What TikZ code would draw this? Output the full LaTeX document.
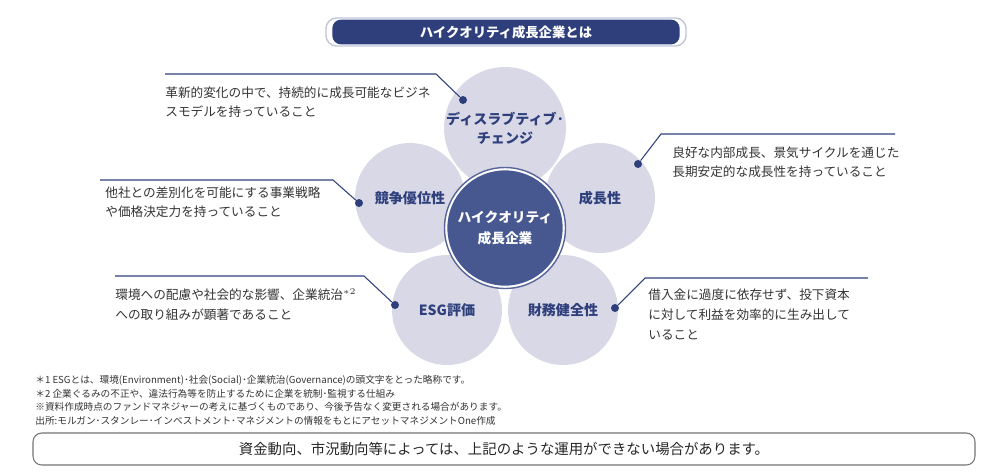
\documentclass[tikz,border=0pt]{standalone}
\usepackage{fontspec}
\setmainfont{Noto Sans CJK JP}
\usepackage{tikz}
\usetikzlibrary{positioning}
\definecolor{navy}{HTML}{2E3F7C}
\definecolor{petal}{HTML}{D8D8E7}
\definecolor{core}{HTML}{46588F}
\begin{document}
\begin{tikzpicture}[x=0.02cm,y=-0.02cm]

	\tikzset{
		petal/.style={
				circle, fill=petal, inner sep=0pt, minimum size=2.2cm, text=navy, font=\fontsize{8}{11}\selectfont\bfseries, align=center
			},
		dot/.style={
				circle, fill=navy, inner sep=0pt, minimum size=0.16cm
			},
		desc/.style={
				anchor=north west, inner sep=0pt, font=\fontsize{7.2}{11.3}\selectfont, text=black!80, align=left
			},
		lead/.style={
				navy, line width=0.6pt
			},
		foot/.style={
				anchor=north west, inner sep=0pt, font=\fontsize{5.5}{7.7}\selectfont, text=black!80, align=left
			},
	}
	\useasboundingbox (0,0) rectangle (991,471);

	% title
	\draw[navy!30, line width=0.8pt, rounded corners=6pt] (326,18) rectangle (686,46);
	\node[fill=navy, rounded corners=5pt, minimum width=6.95cm, minimum height=0.44cm, text=white, font=\fontsize{7.6}{8}\selectfont\bfseries](title) at (506,32){ハイクオリティ成長企業とは};

	% petals
	\node[petal](p1) at (505,128){ディスラブティブ･\\チェンジ};
	\node[petal](p2) at (410,198){競争優位性};
	\node[petal](p3) at (600,198){成長性};
	\node[petal](p4) at (447,310){ESG評価};
	\node[petal](p5) at (563,310){財務健全性};
	\node[circle, draw=navy!80, fill=white, line width=0.8pt, minimum size=2.42cm](ring) at (505,228){};
	\node[circle, fill=core, minimum size=2.26cm, text=white, font=\fontsize{7.8}{11.5}\selectfont\bfseries, align=center](core) at (505,228){ハイクオリティ\\成長企業};

	% dots
	\node[dot](d1) at (463,100){};
	\node[dot](d2) at (359,203){};
	\node[dot](d3) at (638,164){};
	\node[dot](d4) at (395,305){};
	\node[dot](d5) at (615,308){};

	% descriptions
	\node[desc](t1) at (165,86){革新的変化の中で、持続的に成長可能なビジネ\\スモデルを持っていること};
	\node[desc](t2) at (105,186){他社との差別化を可能にする事業戦略\\や価格決定力を持っていること};
	\node[desc](t3) at (672,146){良好な内部成長、景気サイクルを通じた\\長期安定的な成長性を持っていること};
	\node[desc](t4) at (115,288){環境への配慮や社会的な影響、企業統治$^{*2}$\\への取り組みが顕著であること};
	\node[desc](t5) at (648,289){借入金に過度に依存せず、投下資本\\に対して利益を効率的に生み出して\\いること};

	\coordinate(c1) at (436,74);
	\coordinate(c2) at (333,180);
	\coordinate(c3) at (661,134);
	\coordinate(c4) at (364,276);
	\coordinate(c5) at (645,278);
	\draw[lead] (165,74) -- (c1) -- (d1);
	\draw[lead] (100,180) -- (c2) -- (d2);
	\draw[lead] (895,134) -- (c3) -- (d3);
	\draw[lead] (115,276) -- (c4) -- (d4);
	\draw[lead] (868,278) -- (c5) -- (d5);

	% notes
	\node[foot](n1) at (35,375){＊1 ESGとは、環境(Environment)･社会(Social)･企業統治(Governance)の頭文字をとった略称です。\\＊2 企業ぐるみの不正や、違法行為等を防止するために企業を統制･監視する仕組み\\※資料作成時点のファンドマネジャーの考えに基づくものであり、今後予告なく変更される場合があります。\\出所:モルガン･スタンレー･インベストメント･マネジメントの情報をもとにアセットマネジメントOne作成};
	\draw[black!55, line width=0.6pt, rounded corners=5pt] (33,433) rectangle (975,465);
	\node[font=\fontsize{8.2}{10}\selectfont, text=black!85](warn) at (504,449){資金動向、市況動向等によっては、上記のような運用ができない場合があります。};

\end{tikzpicture}
\end{document}
